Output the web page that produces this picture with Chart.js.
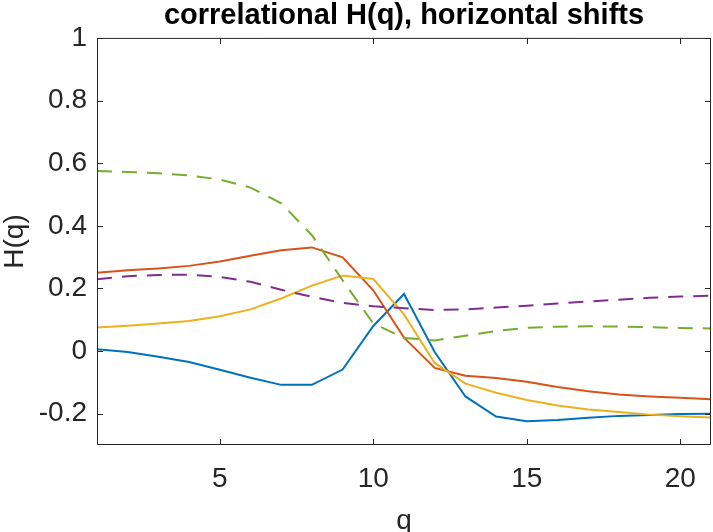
<!DOCTYPE html>
<html>
<head>
<meta charset="utf-8">
<title>correlational H(q), horizontal shifts</title>
<script src="https://cdn.jsdelivr.net/npm/chart.js@4"></script>
<style>
  html, body { margin: 0; padding: 0; background: #fff; }
  canvas { display: block; }
</style>
</head>
<body>
<canvas id="hqChart" width="713" height="532"></canvas>
<script>
// values
const q = [1, 2, 3, 4, 5, 6, 7, 8, 9, 10, 11, 12, 13, 14, 15, 16, 17, 18, 19, 20, 21];
const blueH = [0.006, -0.003, -0.018, -0.035, -0.06, -0.085, -0.108, -0.108, -0.059, 0.08, 0.182, -0.003, -0.145, -0.209, -0.224, -0.22, -0.213, -0.207, -0.204, -0.201, -0.2];
const redH = [0.25, 0.258, 0.264, 0.272, 0.286, 0.304, 0.322, 0.331, 0.299, 0.194, 0.043, -0.054, -0.079, -0.086, -0.098, -0.115, -0.128, -0.139, -0.145, -0.149, -0.154];
const yellowH = [0.075, 0.081, 0.088, 0.096, 0.111, 0.133, 0.168, 0.209, 0.241, 0.23, 0.117, -0.038, -0.104, -0.133, -0.156, -0.174, -0.187, -0.195, -0.203, -0.208, -0.212];
const purpleH = [0.229, 0.239, 0.243, 0.244, 0.237, 0.221, 0.196, 0.173, 0.154, 0.143, 0.137, 0.131, 0.133, 0.139, 0.145, 0.152, 0.158, 0.164, 0.17, 0.174, 0.177];
const greenH = [0.575, 0.572, 0.568, 0.561, 0.548, 0.522, 0.472, 0.37, 0.226, 0.088, 0.042, 0.034, 0.049, 0.064, 0.074, 0.078, 0.079, 0.078, 0.076, 0.074, 0.072];

const xTicks = [5, 10, 15, 20];
const yTicks = [-0.2, 0, 0.2, 0.4, 0.6, 0.8, 1];

const FONT = '"Liberation Sans", Helvetica, Arial, sans-serif';
const AXIS = '#262626';

function points(ys) {
    return ys.map((y, i) => ({ x: q[i], y: y }));
}

function series(ys, color, dashed) {
    return {
        data: points(ys),
        borderColor: color,
        backgroundColor: color,
        borderWidth: 2,
        borderDash: dashed ? [15, 10] : [],
        pointRadius: 0,
        tension: 0,
        fill: false
    };
}

// MATLAB style box with inward ticks on all four sides
const boxPlugin = {
    id: 'box',
    afterDraw(chart) {
        const ctx = chart.ctx;
        const a = chart.chartArea;
        const xs = chart.scales.x;
        const ys = chart.scales.y;
        const len = 6;
        ctx.save();
        ctx.strokeStyle = AXIS;
        ctx.lineWidth = 1;
        ctx.beginPath();
        ctx.rect(a.left + 0.5, a.top + 0.5, a.right - a.left - 1, a.bottom - a.top - 1);
        xTicks.forEach(v => {
            const px = Math.round(xs.getPixelForValue(v)) + 0.5;
            ctx.moveTo(px, a.bottom);
            ctx.lineTo(px, a.bottom - len);
            ctx.moveTo(px, a.top);
            ctx.lineTo(px, a.top + len);
        });
        yTicks.forEach(v => {
            const py = Math.round(ys.getPixelForValue(v)) + 0.5;
            ctx.moveTo(a.left, py);
            ctx.lineTo(a.left + len, py);
            ctx.moveTo(a.right, py);
            ctx.lineTo(a.right - len, py);
        });
        ctx.stroke();
        ctx.restore();
    }
};

const ctx = document.getElementById('hqChart').getContext('2d');
const hqChart = new Chart(ctx, {
    type: 'line',
    data: {
        datasets: [
            series(greenH, '#77AC30', true),
            series(purpleH, '#7E2F8E', true),
            series(yellowH, '#EDB120', false),
            series(redH, '#D95319', false),
            series(blueH, '#0072BD', false)
        ]
    },
    options: {
        responsive: false,
        animation: false,
        layout: { padding: { left: 0, right: 2, top: 0, bottom: 0 } },
        plugins: {
            legend: { display: false },
            tooltip: { enabled: false },
            title: {
                display: true,
                text: 'correlational H(q), horizontal shifts',
                fullSize: false,
                color: '#000',
                font: { family: FONT, size: 29, weight: 'bold', lineHeight: 1.1 },
                padding: { top: 0, bottom: 6 }
            }
        },
        scales: {
            x: {
                type: 'linear',
                min: 1,
                max: 21,
                afterBuildTicks: s => { s.ticks = xTicks.map(v => ({ value: v })); },
                afterFit: s => { s.height = 87; },
                grid: { display: false, drawTicks: false },
                border: { display: false },
                ticks: {
                    color: AXIS,
                    padding: 17,
                    maxRotation: 0,
                    font: { family: FONT, size: 28, lineHeight: 1.2 }
                },
                title: {
                    display: true,
                    text: 'q',
                    color: AXIS,
                    font: { family: FONT, size: 28, lineHeight: 0.8 },
                    padding: { top: 0, bottom: 0 }
                }
            },
            y: {
                min: -0.3,
                max: 1,
                afterBuildTicks: s => { s.ticks = yTicks.map(v => ({ value: v })); },
                afterFit: s => { s.width = 97; },
                grid: { display: false, drawTicks: false },
                border: { display: false },
                ticks: {
                    color: AXIS,
                    padding: 10,
                    callback: v => String(v),
                    font: { family: FONT, size: 28, lineHeight: 1.2 }
                },
                title: {
                    display: true,
                    text: 'H(q)',
                    color: AXIS,
                    font: { family: FONT, size: 28, lineHeight: 1 },
                    padding: { top: 1, bottom: 0 }
                }
            }
        }
    },
    plugins: [boxPlugin]
});
</script>
</body>
</html>
